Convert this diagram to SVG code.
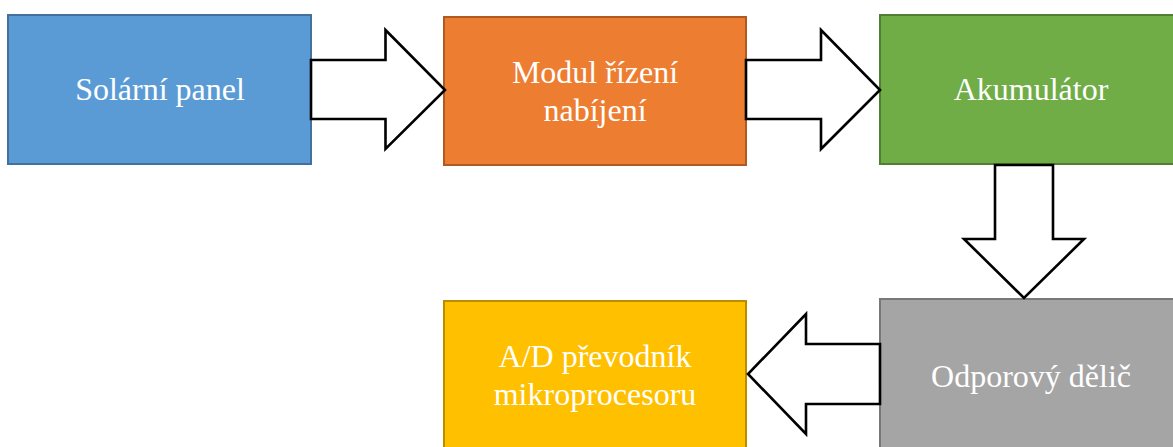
<svg xmlns="http://www.w3.org/2000/svg" width="1173" height="447" viewBox="0 0 1173 447">
<style>
.box{stroke-width:2}
.lbl{font-family:"Liberation Serif","Times New Roman",serif;font-size:32px;fill:#ffffff;text-anchor:middle}
.arrow{fill:#ffffff;stroke:#000000;stroke-width:2.6;stroke-linejoin:miter}
</style>
<rect width="1173" height="447" fill="#ffffff"/>
<g id="solarni-panel">
<rect class="box" x="8" y="15" width="303" height="149" fill="#5B9BD5" stroke="#41719C"/>
<text class="lbl" x="160" y="100">Solární panel</text>
</g>
<g id="modul-rizeni">
<rect class="box" x="444" y="17" width="302" height="148" fill="#ED7D31" stroke="#AE5A21"/>
<text class="lbl" x="595" y="83">Modul řízení</text>
<text class="lbl" x="595" y="121">nabíjení</text>
</g>
<g id="akumulator">
<rect class="box" x="880" y="15" width="302" height="149" fill="#70AD47" stroke="#507E32"/>
<text class="lbl" x="1031" y="100">Akumulátor</text>
</g>
<g id="odporovy-delic">
<rect class="box" x="880" y="299" width="302" height="160" fill="#A5A5A5" stroke="#787878"/>
<text class="lbl" x="1031" y="387">Odporový dělič</text>
</g>
<g id="ad-prevodnik">
<rect class="box" x="444" y="301" width="302" height="160" fill="#FFC000" stroke="#BC8C00"/>
<text class="lbl" x="595" y="367">A/D převodník</text>
<text class="lbl" x="595" y="405">mikroprocesoru</text>
</g>
<g id="connectors">
<polygon class="arrow" points="311,60 385.5,60 385.5,30 445,90 385.5,149 385.5,119 311,119"/>
<polygon class="arrow" points="746,60 821,60 821,30 880,90 821,149 821,119 746,119"/>
<polygon class="arrow" points="995,165 1053,165 1053,239 1084,239 1024,298 964,239 995,239"/>
<polygon class="arrow" points="880,344 806,344 806,314 748,374 806,434 806,404 880,404"/>
</g>
</svg>
